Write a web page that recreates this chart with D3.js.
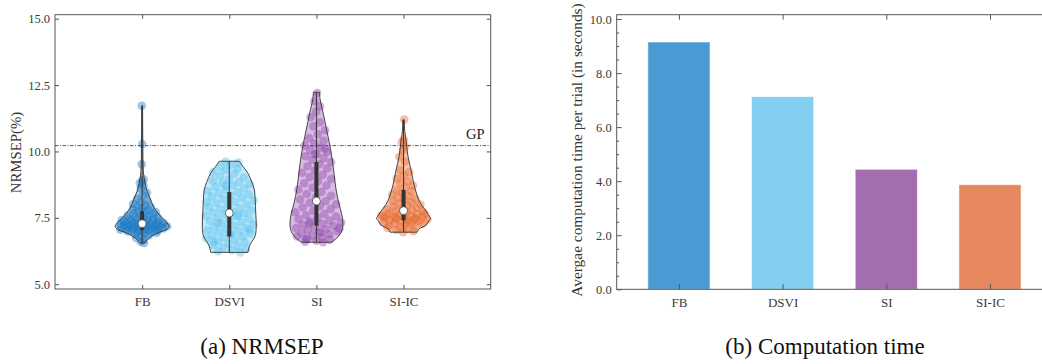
<!DOCTYPE html>
<html><head><meta charset="utf-8">
<script src="https://cdn.jsdelivr.net/npm/d3@7"></script>
<style>
html,body{margin:0;padding:0;background:#fff;}
svg{display:block;}
text{font-family:"Liberation Serif","DejaVu Serif",serif;}
</style></head>
<body>
<svg id="chart" width="1042" height="364"></svg>
<script>
// ---------------- DATA ----------------
const categories = ["FB", "DSVI", "SI", "SI-IC"];
const nrmsepTicks = [5.0, 7.5, 10.0, 12.5, 15.0];
const timeTicks = [0, 2, 4, 6, 8, 10];
const gpValue = 10.22;

// Violin outlines: [value, relative half width]
const profileFB = [[11.72,0.015],[11.0,0.02],[10.3,0.025],[9.5,0.035],[9.1,0.06],[8.8,0.11],[8.55,0.17],[8.17,0.32],[7.9,0.43],[7.67,0.59],[7.5,0.74],[7.36,0.88],[7.17,1.0],[7.05,0.89],[6.98,0.7],[6.88,0.48],[6.79,0.32],[6.68,0.19],[6.55,0.09]];
const profileDSVI = [[9.63,0.37],[9.43,0.51],[9.18,0.69],[8.86,0.83],[8.55,0.93],[8.17,0.96],[7.67,0.98],[7.17,1.0],[6.79,0.95],[6.6,0.83],[6.42,0.74],[6.2,0.69]];
const profileSI = [[12.23,0.11],[11.94,0.14],[11.44,0.25],[10.81,0.38],[10.31,0.48],[9.8,0.57],[9.18,0.65],[8.55,0.73],[8.05,0.83],[7.67,0.93],[7.3,0.98],[6.98,0.93],[6.73,0.75],[6.58,0.55]];
const profileSIIC = [[11.19,0.03],[10.75,0.045],[10.37,0.1],[9.87,0.155],[9.24,0.29],[8.74,0.39],[8.24,0.54],[7.99,0.66],[7.73,0.85],[7.55,0.96],[7.48,1.0],[7.38,0.93],[7.23,0.84],[7.08,0.57],[6.96,0.5]];

// Individual trial values (dots)
const pointsFB = [11.72,10.28,9.52,8.95,8.88,8.8,8.72,8.62,8.45,8.35,8.22,8.15,8.08,8.02,7.98,7.93,7.9,7.86,7.82,7.79,7.76,7.72,7.7,7.67,7.64,7.61,7.59,7.56,7.53,7.51,7.49,7.47,7.45,7.44,7.42,7.41,7.39,7.38,7.36,7.35,7.33,7.32,7.31,7.3,7.29,7.28,7.27,7.26,7.25,7.24,7.23,7.22,7.21,7.2,7.19,7.18,7.17,7.16,7.15,7.14,7.13,7.12,7.11,7.1,7.09,7.08,7.07,7.06,7.05,7.04,7.03,7.02,7.0,6.99,6.97,6.95,6.93,6.91,6.88,6.84,6.8,6.74,6.68,6.6,6.55];
const pointsDSVI = [9.62,9.58,9.5,9.42,9.35,9.3,9.22,9.15,9.08,9.02,8.95,8.9,8.84,8.8,8.78,8.72,8.66,8.6,8.55,8.5,8.46,8.42,8.38,8.34,8.3,8.25,8.2,8.15,8.1,8.05,8.0,7.95,7.9,7.86,7.82,7.78,7.74,7.7,7.67,7.63,7.59,7.55,7.5,7.46,7.42,7.38,7.33,7.29,7.25,7.2,7.16,7.12,7.08,7.04,7.0,6.96,6.92,6.88,6.84,6.8,6.76,6.72,6.68,6.63,6.58,6.53,6.48,6.43,6.38,6.33,6.28,6.24,6.2,8.7,8.1,7.6,7.3,7.05,6.9,6.6];
const pointsSI = [12.2,11.9,11.7,11.5,11.3,11.1,10.95,10.8,10.65,10.5,10.4,10.3,10.22,10.15,10.05,9.98,9.9,9.82,9.75,9.68,9.6,9.52,9.44,9.36,9.28,9.2,9.12,9.04,8.96,8.88,8.8,8.72,8.64,8.56,8.48,8.4,8.33,8.26,8.19,8.13,8.07,8.01,7.95,7.89,7.83,7.77,7.71,7.65,7.6,7.55,7.5,7.45,7.4,7.36,7.32,7.28,7.24,7.2,7.16,7.12,7.08,7.04,7.0,6.96,6.92,6.88,6.84,6.8,6.76,6.72,6.68,6.64,6.6,6.58,7.3,7.1,6.95,6.7,10.1,9.9];
const pointsSIIC = [11.2,10.45,10.35,10.2,10.05,9.8,9.62,9.3,9.22,9.1,8.98,8.88,8.8,8.72,8.64,8.56,8.5,8.44,8.38,8.32,8.27,8.22,8.17,8.12,8.08,8.04,8.0,7.96,7.92,7.88,7.85,7.82,7.79,7.76,7.73,7.7,7.67,7.64,7.62,7.6,7.58,7.56,7.54,7.52,7.5,7.48,7.46,7.44,7.42,7.4,7.38,7.36,7.34,7.32,7.3,7.27,7.24,7.21,7.18,7.15,7.12,7.08,7.04,7.0,6.96,7.55,7.45,7.5,7.65,7.35];

// Box summaries: min, q1, median, q3, max
const boxMin = [6.55, 6.2, 6.58, 6.96];
const boxQ1 = [7.04, 6.8, 7.21, 7.41];
const boxMedian = [7.28, 7.68, 8.13, 7.77];
const boxQ3 = [7.75, 8.47, 9.6, 8.55];
const boxMax = [11.72, 9.63, 12.23, 11.19];

// Average computation time per trial (s)
const timeValues = [9.15, 7.13, 4.44, 3.87];

// ---------------- STYLE ----------------
const pointColors = ["#1a76c2", "#56c0ee", "#8e44ad", "#e5662c"];
const barColors = ["#4a9bd3", "#82cff2", "#a46db0", "#e5875f"];
const frameColor = "#555";
const labelColor = "#3a3a3a";

const svg = d3.select("#chart");

// ---------------- LEFT PANEL ----------------
const L = {x0: 55, x1: 490.7, y0: 14.7, y1: 289};
const xL = d3.scaleLinear().domain([0, 5]).range([L.x0, L.x1]);
const yL = d3.scaleLinear().domain([4.82, 15.15]).range([L.y1, L.y0]);
const wL = d3.scaleLinear().domain([0, 1]).range([0, 27]);

const gL = svg.append("g");
const profiles = [profileFB, profileDSVI, profileSI, profileSIIC];
const pointSets = [pointsFB, pointsDSVI, pointsSI, pointsSIIC];

function halfWidthAt(profile, v) {
  const p = profile.slice().sort((a,b)=>a[0]-b[0]);
  if (v <= p[0][0]) return p[0][1];
  if (v >= p[p.length-1][0]) return p[p.length-1][1];
  for (let i=0;i<p.length-1;i++) {
    if (v >= p[i][0] && v <= p[i+1][0]) {
      const t = (v - p[i][0])/(p[i+1][0]-p[i][0]);
      return p[i][1] + t*(p[i+1][1]-p[i][1]);
    }
  }
  return 0;
}

categories.forEach((c, i) => {
  const cx = xL(i + 1);
  const area = d3.area()
    .y(d => yL(d[0]))
    .x0(d => cx - wL(d[1]))
    .x1(d => cx + wL(d[1]))
    .curve(d3.curveCatmullRom);
  gL.append("path").datum(profiles[i]).attr("d", area)
    .attr("fill", pointColors[i]).attr("fill-opacity", 0.36).attr("stroke", "none");
  gL.append("g").selectAll("circle").data(pointSets[i]).join("circle")
    .attr("cx", (v, k) => {
      const u = ((k * 0.6180339887 + i * 0.31) % 1) * 2 - 1;
      return cx + wL(halfWidthAt(profiles[i], v)) * u * 0.95;
    })
    .attr("cy", v => yL(v))
    .attr("r", 4.3)
    .attr("fill", pointColors[i]).attr("fill-opacity", 0.42);
  gL.append("path").datum(profiles[i]).attr("d", area)
    .attr("fill", "none").attr("stroke", "#333").attr("stroke-width", 0.9);
  gL.append("line").attr("x1", cx).attr("x2", cx)
    .attr("y1", yL(boxMin[i])).attr("y2", yL(boxMax[i]))
    .attr("stroke", "#333").attr("stroke-width", 1);
  gL.append("line").attr("x1", cx).attr("x2", cx)
    .attr("y1", yL(boxQ1[i])).attr("y2", yL(boxQ3[i]))
    .attr("stroke", "#333").attr("stroke-width", 4);
  gL.append("circle").attr("cx", cx).attr("cy", yL(boxMedian[i])).attr("r", 4)
    .attr("fill", "#fff").attr("stroke", "#333").attr("stroke-width", 0.7);
});

gL.append("line").attr("x1", L.x0).attr("x2", L.x1)
  .attr("y1", yL(gpValue)).attr("y2", yL(gpValue))
  .attr("stroke", "#444").attr("stroke-width", 0.9).attr("stroke-dasharray", "3.5,1.5,1,1.5");
gL.append("text").attr("x", 466).attr("y", 138.5).attr("font-size", 14.5).attr("fill", "#222").text("GP");

function styleAxis(g) {
  g.select(".domain").remove();
  g.selectAll(".tick line").attr("stroke", frameColor).attr("stroke-width", 1);
  g.selectAll(".tick text").attr("fill", labelColor).style("font-family", '"Liberation Serif","DejaVu Serif",serif');
}
gL.append("g").attr("transform", `translate(${L.x0},0)`)
  .call(d3.axisLeft(yL).tickValues(nrmsepTicks).tickSize(-4).tickPadding(5).tickFormat(d3.format(".1f")))
  .call(styleAxis).call(g => g.selectAll(".tick text").attr("font-size", 12.5));
gL.append("g").attr("transform", `translate(${L.x1},0)`)
  .call(d3.axisRight(yL).tickValues(nrmsepTicks).tickSize(-4).tickFormat(""))
  .call(styleAxis);
gL.append("g").attr("transform", `translate(0,${L.y1})`)
  .call(d3.axisBottom(xL).tickValues([1,2,3,4]).tickSize(-4).tickPadding(8).tickFormat((d) => categories[d-1]))
  .call(styleAxis).call(g => g.selectAll(".tick text").attr("font-size", 13));
gL.append("g").attr("transform", `translate(0,${L.y0})`)
  .call(d3.axisTop(xL).tickValues([1,2,3,4]).tickSize(-4).tickFormat(""))
  .call(styleAxis);
gL.append("rect").attr("x", L.x0).attr("y", L.y0).attr("width", L.x1 - L.x0).attr("height", L.y1 - L.y0)
  .attr("fill", "none").attr("stroke", frameColor).attr("stroke-width", 1);
gL.append("text").attr("transform", `translate(20.5,152.5) rotate(-90)`)
  .attr("text-anchor", "middle").attr("font-size", 14.8).attr("fill", "#333").text("NRMSEP(%)");
svg.append("text").attr("x", 262).attr("y", 354).attr("text-anchor", "middle")
  .attr("font-size", 23).attr("fill", "#111").text("(a) NRMSEP");

// ---------------- RIGHT PANEL ----------------
const R = {x0: 616.7, x1: 1052.2, y0: 14.7, y1: 289.3};
const xR = d3.scaleLinear().domain([-0.6, 3.6]).range([R.x0, R.x1]);
const yR = d3.scaleLinear().domain([0, 10.16]).range([R.y1, R.y0]);
const gR = svg.append("g");
const barW = xR(0.3) - xR(-0.3);

gR.selectAll("rect.bar").data(timeValues).join("rect").attr("class", "bar")
  .attr("x", (d, i) => xR(i) - barW / 2)
  .attr("y", d => yR(d))
  .attr("width", barW)
  .attr("height", d => yR(0) - yR(d))
  .attr("fill", (d, i) => barColors[i])
  .attr("stroke", "#fff").attr("stroke-opacity", 0.6).attr("stroke-width", 1);

const minorTicks = d3.range(0, 10.01, 0.5).filter(v => Math.abs(v / 2 - Math.round(v / 2)) > 1e-6);
gR.append("g").attr("transform", `translate(${R.x0},0)`)
  .call(d3.axisLeft(yR).tickValues(minorTicks).tickSize(-2.5).tickFormat(""))
  .call(styleAxis);
gR.append("g").attr("transform", `translate(${R.x0},0)`)
  .call(d3.axisLeft(yR).tickValues(timeTicks).tickSize(-5).tickPadding(5).tickFormat(d3.format(".1f")))
  .call(styleAxis).call(g => g.selectAll(".tick text").attr("font-size", 12.5));
gR.append("g").attr("transform", `translate(0,${R.y1})`)
  .call(d3.axisBottom(xR).tickValues([0,1,2,3]).tickSize(-5).tickPadding(8).tickFormat(d => categories[d]))
  .call(styleAxis).call(g => g.selectAll(".tick text").attr("font-size", 13));
gR.append("g").attr("transform", `translate(0,${R.y0})`)
  .call(d3.axisTop(xR).tickValues([0,1,2,3]).tickSize(-5).tickFormat(""))
  .call(styleAxis);
gR.append("rect").attr("x", R.x0).attr("y", R.y0).attr("width", R.x1 - R.x0).attr("height", R.y1 - R.y0)
  .attr("fill", "none").attr("stroke", frameColor).attr("stroke-width", 1);
gR.append("text").attr("transform", `translate(582,150) rotate(-90)`)
  .attr("text-anchor", "middle").attr("font-size", 15.4).attr("fill", "#333")
  .text("Avergae computation time per trial (in seconds)");
svg.append("text").attr("x", 825).attr("y", 354).attr("text-anchor", "middle")
  .attr("font-size", 23).attr("fill", "#111").text("(b) Computation time");
</script>
</body></html>
